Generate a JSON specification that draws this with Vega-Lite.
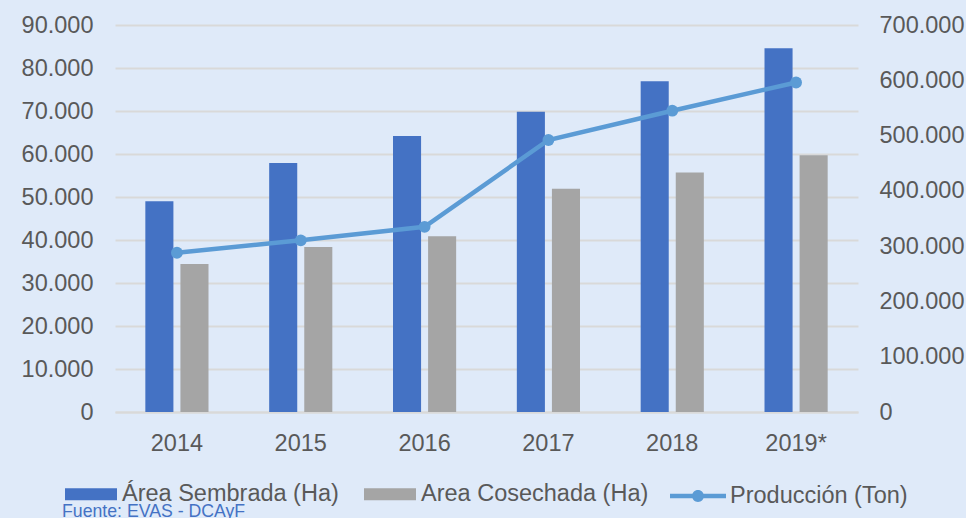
{
  "$schema": "https://vega.github.io/schema/vega-lite/v6.json",
  "width": 743,
  "height": 387,
  "autosize": {"type": "none"},
  "padding": {"left": 115, "top": 25, "right": 108, "bottom": 106},
  "background": "#dfeaf9",
  "datasets": {
    "areas": [
      {"year": "2014", "serie": "Área Sembrada (Ha)", "value": 49000},
      {"year": "2014", "serie": "Area Cosechada (Ha)", "value": 34400},
      {"year": "2015", "serie": "Área Sembrada (Ha)", "value": 57900},
      {"year": "2015", "serie": "Area Cosechada (Ha)", "value": 38400},
      {"year": "2016", "serie": "Área Sembrada (Ha)", "value": 64200},
      {"year": "2016", "serie": "Area Cosechada (Ha)", "value": 40900},
      {"year": "2017", "serie": "Área Sembrada (Ha)", "value": 69800},
      {"year": "2017", "serie": "Area Cosechada (Ha)", "value": 51900},
      {"year": "2018", "serie": "Área Sembrada (Ha)", "value": 76900},
      {"year": "2018", "serie": "Area Cosechada (Ha)", "value": 55700},
      {"year": "2019*", "serie": "Área Sembrada (Ha)", "value": 84600},
      {"year": "2019*", "serie": "Area Cosechada (Ha)", "value": 59700}
    ],
    "prod": [
      {"year": "2014", "serie": "Producción (Ton)", "value": 288000},
      {"year": "2015", "serie": "Producción (Ton)", "value": 310500},
      {"year": "2016", "serie": "Producción (Ton)", "value": 335000},
      {"year": "2017", "serie": "Producción (Ton)", "value": 492000},
      {"year": "2018", "serie": "Producción (Ton)", "value": 545000},
      {"year": "2019*", "serie": "Producción (Ton)", "value": 596000}
    ]
  },
  "title": {
    "text": "Fuente: EVAS - DCAyF",
    "orient": "bottom",
    "anchor": "start",
    "frame": "group",
    "dx": -53,
    "offset": -5,
    "font": "Liberation Sans",
    "fontSize": 17.7,
    "fontWeight": "normal",
    "color": "#4472c4"
  },
  "encoding": {
    "x": {
      "field": "year",
      "type": "nominal",
      "sort": null,
      "scale": {"paddingInner": 0.49, "paddingOuter": 0.245},
      "axis": {
        "title": null,
        "labelAngle": 0,
        "ticks": false,
        "labelPadding": 19,
        "domain": true,
        "domainColor": "#d9d9d9",
        "domainWidth": 2,
        "grid": false
      }
    }
  },
  "layer": [
    {
      "data": {"name": "areas"},
      "mark": {"type": "bar"},
      "encoding": {
        "xOffset": {
          "field": "serie",
          "type": "nominal",
          "sort": ["Área Sembrada (Ha)", "Area Cosechada (Ha)"],
          "scale": {"paddingInner": 0.2, "paddingOuter": 0}
        },
        "y": {
          "field": "value",
          "type": "quantitative",
          "scale": {"domain": [0, 90000], "nice": false},
          "axis": {
            "title": null,
            "orient": "left",
            "values": [0, 10000, 20000, 30000, 40000, 50000, 60000, 70000, 80000, 90000],
            "labelExpr": "replace(format(datum.value, ','), ',', '.')",
            "ticks": false,
            "domain": false,
            "labelPadding": 22,
            "grid": true,
            "gridColor": "#d9d9d9",
            "gridWidth": 2
          }
        },
        "fill": {
          "field": "serie",
          "type": "nominal",
          "scale": {
            "domain": ["Área Sembrada (Ha)", "Area Cosechada (Ha)"],
            "range": ["#4472c4", "#a5a5a5"]
          },
          "legend": {
            "title": null,
            "orient": "bottom",
            "direction": "horizontal",
            "symbolType": "M-1,-0.23H1V0.23H-1Z",
            "symbolSize": 2704,
            "symbolStrokeWidth": 0,
            "labelOffset": 5,
            "columnPadding": 25
          }
        }
      }
    },
    {
      "data": {"name": "prod"},
      "mark": {"type": "line", "strokeWidth": 4.5, "color": "#5b9bd5"},
      "encoding": {
        "y": {
          "field": "value",
          "type": "quantitative",
          "scale": {"domain": [0, 700000], "nice": false},
          "axis": {
            "title": null,
            "orient": "right",
            "values": [0, 100000, 200000, 300000, 400000, 500000, 600000, 700000],
            "labelExpr": "replace(format(datum.value, ','), ',', '.')",
            "ticks": false,
            "domain": false,
            "labelPadding": 21,
            "grid": false
          }
        },
        "stroke": {
          "field": "serie",
          "type": "nominal",
          "scale": {"domain": ["Producción (Ton)"], "range": ["#5b9bd5"]},
          "legend": {
            "title": null,
            "orient": "bottom",
            "direction": "horizontal",
            "symbolType": "M-1,-0.08H1V0.08H-1Z M0.214,0A0.214,0.214,0,1,1,-0.214,0A0.214,0.214,0,1,1,0.214,0Z",
            "symbolSize": 3136,
            "symbolFillColor": "#5b9bd5",
            "symbolStrokeWidth": 0,
            "labelOffset": 4
          }
        }
      }
    },
    {
      "data": {"name": "prod"},
      "mark": {"type": "circle", "size": 140, "opacity": 1, "color": "#5b9bd5"},
      "encoding": {
        "y": {
          "field": "value",
          "type": "quantitative",
          "scale": {"domain": [0, 700000], "nice": false},
          "axis": null
        }
      }
    }
  ],
  "resolve": {"scale": {"y": "independent"}},
  "config": {
    "font": "Liberation Sans",
    "view": {"stroke": null},
    "axis": {
      "labelFont": "Liberation Sans",
      "labelFontSize": 23.5,
      "labelColor": "#595959"
    },
    "legend": {
      "labelFont": "Liberation Sans",
      "labelFontSize": 23.5,
      "labelColor": "#595959",
      "labelLimit": 400,
      "offset": 13,
      "layout": {"bottom": {"anchor": "middle", "direction": "horizontal", "margin": 21}}
    }
  }
}
